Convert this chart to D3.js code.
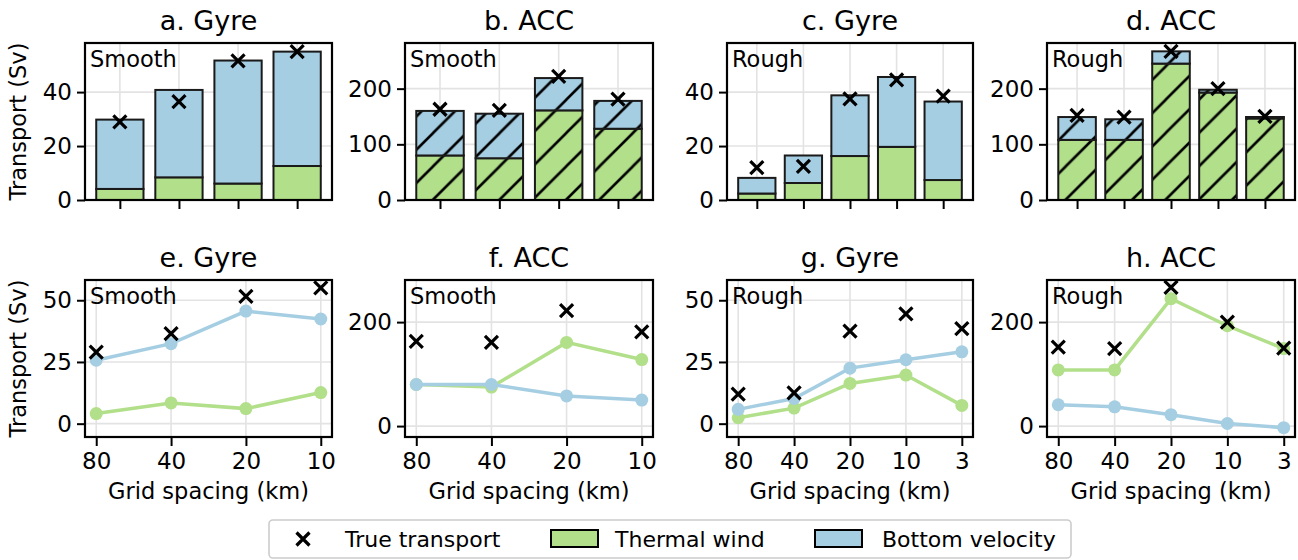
<!DOCTYPE html>
<html>
<head>
<meta charset="utf-8">
<script src="https://cdn.jsdelivr.net/npm/d3@7"></script>
<style>
	body { margin: 0; background: white; }
	text { font-family: "DejaVu Sans", sans-serif; fill: black; }
</style>
</head>
<body>
<svg id="chart" width="1298" height="560"></svg>
<script>
// grid spacings (km)
var smoothSpacing = ["80", "40", "20", "10"];
var roughSpacing = ["80", "40", "20", "10", "3"];

// transports (Sv)
var gyreSmoothThermal = [4.1, 8.4, 6.1, 12.6];
var gyreSmoothBottom = [25.7, 32.4, 45.6, 42.4];
var gyreSmoothTrue = [29.0, 36.5, 51.6, 55.0];

var accSmoothThermal = [80, 75, 161, 128];
var accSmoothBottom = [80, 80, 58, 50];
var accSmoothTrue = [163, 161, 222, 181];

var gyreRoughThermal = [2.4, 6.3, 16.3, 19.7, 7.4];
var gyreRoughBottom = [5.8, 10.2, 22.5, 25.9, 29.1];
var gyreRoughTrue = [12.0, 12.5, 37.5, 44.5, 38.5];

var accRoughThermal = [108, 108, 245, 193, 149];
var accRoughBottom = [41, 37, 22, 5, -3];
var accRoughTrue = [152, 149, 267, 200, 150];

var gyreTicksBar = [0, 20, 40];
var accTicksBar = [0, 100, 200];
var gyreTicksLine = [0, 25, 50];
var accTicksLine = [0, 200];

var legendLabels = ["True transport", "Thermal wind", "Bottom velocity"];

var GREEN = "#b2df8a";
var BLUE = "#a6cee3";
var GRID = "#e3e3e3";

var COLS = [[85, 332], [405, 653], [727, 973], [1047, 1295]];
var ROW_BAR = {top: 43, bottom: 200};
var ROW_LINE = {top: 280, bottom: 437};

var panels = [
	{title: "a. Gyre", tag: "Smooth", col: 0, cats: smoothSpacing, thermal: gyreSmoothThermal, bottom: gyreSmoothBottom, truth: gyreSmoothTrue, hatch: false, ydom: [0, 58.2], ticks: gyreTicksBar, ylabel: true},
	{title: "b. ACC", tag: "Smooth", col: 1, cats: smoothSpacing, thermal: accSmoothThermal, bottom: accSmoothBottom, truth: accSmoothTrue, hatch: true, ydom: [0, 282], ticks: accTicksBar},
	{title: "c. Gyre", tag: "Rough", col: 2, cats: roughSpacing, thermal: gyreRoughThermal, bottom: gyreRoughBottom, truth: gyreRoughTrue, hatch: false, ydom: [0, 58.2], ticks: gyreTicksBar},
	{title: "d. ACC", tag: "Rough", col: 3, cats: roughSpacing, thermal: accRoughThermal, bottom: accRoughBottom, truth: accRoughTrue, hatch: true, ydom: [0, 282], ticks: accTicksBar}
];

var linePanels = [
	{title: "e. Gyre", tag: "Smooth", col: 0, cats: smoothSpacing, thermal: gyreSmoothThermal, bottom: gyreSmoothBottom, truth: gyreSmoothTrue, ydom: [-5.4, 58.2], ticks: gyreTicksLine, ylabel: true},
	{title: "f. ACC", tag: "Smooth", col: 1, cats: smoothSpacing, thermal: accSmoothThermal, bottom: accSmoothBottom, truth: accSmoothTrue, ydom: [-21, 281], ticks: accTicksLine},
	{title: "g. Gyre", tag: "Rough", col: 2, cats: roughSpacing, thermal: gyreRoughThermal, bottom: gyreRoughBottom, truth: gyreRoughTrue, ydom: [-5.4, 58.2], ticks: gyreTicksLine},
	{title: "h. ACC", tag: "Rough", col: 3, cats: roughSpacing, thermal: accRoughThermal, bottom: accRoughBottom, truth: accRoughTrue, ydom: [-21, 281], ticks: accTicksLine}
];

var svg = d3.select("#chart");

// hatch "/" like matplotlib
var hs = 33.3;
svg.append("defs")
	.append("pattern")
		.attr("id", "hatch")
		.attr("patternUnits", "userSpaceOnUse")
		.attr("width", hs)
		.attr("height", hs)
	.append("path")
		.attr("d", "M0," + hs + "L" + hs + ",0M" + (-hs / 2) + "," + (hs / 2) + "L" + (hs / 2) + "," + (-hs / 2) + "M" + (hs / 2) + "," + (hs * 1.5) + "L" + (hs * 1.5) + "," + (hs / 2))
		.attr("stroke", "black")
		.attr("stroke-width", 2.6);

function crossPath( cx, cy, r ) {
	return "M" + (cx - r) + "," + (cy - r) + "L" + (cx + r) + "," + (cy + r) +
		"M" + (cx - r) + "," + (cy + r) + "L" + (cx + r) + "," + (cy - r);
}

function drawFrame( g, p, row, x, y, xticks, showXLabels ) {
	var left = COLS[p.col][0], right = COLS[p.col][1];

	// grid
	g.append("g").selectAll("line.gy")
		.data(p.ticks)
		.enter().append("line")
			.attr("x1", left).attr("x2", right)
			.attr("y1", function(d) {return y(d);})
			.attr("y2", function(d) {return y(d);})
			.attr("stroke", GRID)
			.attr("stroke-width", 1.6);
	g.append("g").selectAll("line.gx")
		.data(xticks)
		.enter().append("line")
			.attr("x1", function(d) {return x(d);})
			.attr("x2", function(d) {return x(d);})
			.attr("y1", row.top).attr("y2", row.bottom)
			.attr("stroke", GRID)
			.attr("stroke-width", 1.6);

	// y axis
	var yAxis = d3.axisLeft(y)
		.tickValues(p.ticks)
		.tickSize(8)
		.tickPadding(5)
		.tickFormat(d3.format("d"));
	var ya = g.append("g")
		.attr("transform", "translate(" + left + ",0)")
		.call(yAxis);
	ya.select(".domain").remove();
	ya.selectAll("line").attr("stroke-width", 2);
	ya.selectAll("text").attr("font-size", 23).attr("font-family", "DejaVu Sans");

	// x axis
	var xAxis = d3.axisBottom(x)
		.tickValues(xticks)
		.tickSize(9)
		.tickPadding(7)
		.tickFormat(function(d) {return showXLabels ? p.cats[d] : "";});
	var xa = g.append("g")
		.attr("transform", "translate(0," + row.bottom + ")")
		.call(xAxis);
	xa.select(".domain").remove();
	xa.selectAll("line").attr("stroke-width", 2);
	xa.selectAll("text").attr("font-size", 23).attr("font-family", "DejaVu Sans");

	// title and tag
	var cx = (left + right) / 2;
	g.append("text")
		.attr("x", cx)
		.attr("y", row.top - 13)
		.attr("text-anchor", "middle")
		.attr("font-size", 27)
		.text(p.title);
	g.append("text")
		.attr("x", left + 5)
		.attr("y", row.top + 24)
		.attr("font-size", 22.5)
		.text(p.tag);

	if( p.ylabel ) {
		g.append("text")
			.attr("transform", "translate(26," + ((row.top + row.bottom) / 2) + ") rotate(-90)")
			.attr("text-anchor", "middle")
			.attr("font-size", 22.5)
			.text("Transport (Sv)");
	}
}

function drawSpines( g, p, row ) {
	var left = COLS[p.col][0], right = COLS[p.col][1];
	g.append("rect")
		.attr("x", left).attr("y", row.top)
		.attr("width", right - left)
		.attr("height", row.bottom - row.top)
		.attr("fill", "none")
		.attr("stroke", "black")
		.attr("stroke-width", 2.2);
}

function drawBarPanel( p ) {
	var n = p.cats.length;
	var left = COLS[p.col][0], right = COLS[p.col][1];
	var pad = 0.05 * (n - 1 + 0.8);
	var x = d3.scaleLinear().domain([-0.4 - pad, n - 1 + 0.4 + pad]).range([left, right]);
	var y = d3.scaleLinear().domain(p.ydom).range([ROW_BAR.bottom, ROW_BAR.top]);
	var bw = x(0.4) - x(-0.4);
	var idx = d3.range(n);

	var g = svg.append("g");
	drawFrame( g, p, ROW_BAR, x, y, idx, false );

	var segs = [];
	idx.forEach(function(i) {
		segs.push({i: i, y0: 0, y1: p.thermal[i], color: GREEN});
	});
	idx.forEach(function(i) {
		segs.push({i: i, y0: p.thermal[i], y1: p.thermal[i] + p.bottom[i], color: BLUE});
	});

	var bars = g.append("g").selectAll("g")
		.data(segs)
		.enter().append("g");
	bars.append("rect")
		.attr("x", function(d) {return x(d.i) - bw / 2;})
		.attr("y", function(d) {return y(Math.max(d.y0, d.y1));})
		.attr("width", bw)
		.attr("height", function(d) {return Math.abs(y(d.y0) - y(d.y1));})
		.attr("fill", function(d) {return d.color;});
	if( p.hatch ) {
		bars.append("rect")
			.attr("x", function(d) {return x(d.i) - bw / 2;})
			.attr("y", function(d) {return y(Math.max(d.y0, d.y1));})
			.attr("width", bw)
			.attr("height", function(d) {return Math.abs(y(d.y0) - y(d.y1));})
			.attr("fill", "url(#hatch)");
	}
	bars.append("rect")
		.attr("x", function(d) {return x(d.i) - bw / 2;})
		.attr("y", function(d) {return y(Math.max(d.y0, d.y1));})
		.attr("width", bw)
		.attr("height", function(d) {return Math.abs(y(d.y0) - y(d.y1));})
		.attr("fill", "none")
		.attr("stroke", "#1a1a1a")
		.attr("stroke-width", 2);

	g.append("g").selectAll("path")
		.data(idx)
		.enter().append("path")
			.attr("d", function(i) {return crossPath(x(i), y(p.truth[i]), 6.5);})
			.attr("stroke", "black")
			.attr("stroke-width", 3.2)
			.attr("fill", "none");

	drawSpines( g, p, ROW_BAR );
}

function drawLinePanel( p ) {
	var n = p.cats.length;
	var left = COLS[p.col][0], right = COLS[p.col][1];
	var pad = 0.05 * (n - 1);
	var x = d3.scaleLinear().domain([-pad, n - 1 + pad]).range([left, right]);
	var y = d3.scaleLinear().domain(p.ydom).range([ROW_LINE.bottom, ROW_LINE.top]);
	var idx = d3.range(n);

	var g = svg.append("g");
	drawFrame( g, p, ROW_LINE, x, y, idx, true );

	var line = d3.line()
		.x(function(d) {return x(d.i);})
		.y(function(d) {return y(d.v);});

	[[p.thermal, GREEN], [p.bottom, BLUE]].forEach(function(s) {
		var pts = idx.map(function(i) {return {i: i, v: s[0][i]};});
		g.append("path")
			.datum(pts)
			.attr("d", line)
			.attr("fill", "none")
			.attr("stroke", s[1])
			.attr("stroke-width", 3.5);
		g.append("g").selectAll("circle")
			.data(pts)
			.enter().append("circle")
				.attr("cx", function(d) {return x(d.i);})
				.attr("cy", function(d) {return y(d.v);})
				.attr("r", 6.5)
				.attr("fill", s[1]);
	});

	g.append("g").selectAll("path")
		.data(idx)
		.enter().append("path")
			.attr("d", function(i) {return crossPath(x(i), y(p.truth[i]), 6.5);})
			.attr("stroke", "black")
			.attr("stroke-width", 3.2)
			.attr("fill", "none");

	drawSpines( g, p, ROW_LINE );

	g.append("text")
		.attr("x", (left + right) / 2)
		.attr("y", 499)
		.attr("text-anchor", "middle")
		.attr("font-size", 22.5)
		.text("Grid spacing (km)");
}

panels.forEach(drawBarPanel);
linePanels.forEach(drawLinePanel);

// legend
var lg = svg.append("g");
lg.append("rect")
	.attr("x", 269).attr("y", 520)
	.attr("width", 802).attr("height", 38)
	.attr("rx", 4)
	.attr("fill", "white")
	.attr("stroke", "#cccccc")
	.attr("stroke-width", 1.6);
lg.append("path")
	.attr("d", crossPath(303, 539, 6.5))
	.attr("stroke", "black")
	.attr("stroke-width", 3.2);
var patches = [{x: 551, color: GREEN}, {x: 815, color: BLUE}];
lg.selectAll("rect.patch")
	.data(patches)
	.enter().append("rect")
		.attr("x", function(d) {return d.x;})
		.attr("y", 530)
		.attr("width", 47)
		.attr("height", 17)
		.attr("fill", function(d) {return d.color;})
		.attr("stroke", "black")
		.attr("stroke-width", 2);
var labelX = [345, 615, 882];
lg.selectAll("text")
	.data(legendLabels)
	.enter().append("text")
		.attr("x", function(d, i) {return labelX[i];})
		.attr("y", 547)
		.attr("font-size", 22)
		.text(function(d) {return d;});
</script>
</body>
</html>
